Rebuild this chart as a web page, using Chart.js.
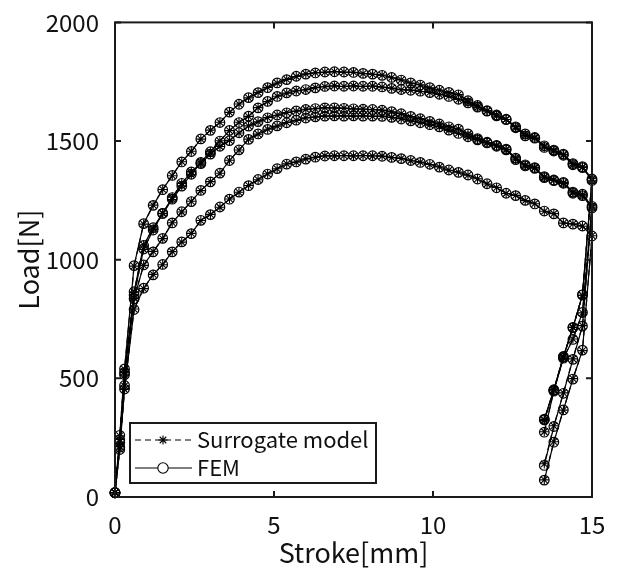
<!DOCTYPE html>
<html><head><meta charset="utf-8">
<script src="https://cdn.jsdelivr.net/npm/chart.js@4/dist/chart.umd.min.js"></script>
<style>html,body{margin:0;padding:0;background:#fff;}</style>
</head><body>
<canvas id="c" width="617" height="569"></canvas>
<script>
// Stroke [mm] (loading 0 -> 15, then unloading 15 -> 13.5)
const stroke = [0, 0.15, 0.3, 0.6, 0.9, 1.2, 1.5, 1.8, 2.1, 2.4, 2.7, 3.0, 3.3, 3.6, 3.9, 4.2, 4.5, 4.8, 5.1, 5.4, 5.7, 6.0, 6.3, 6.6, 6.9, 7.2, 7.5, 7.8, 8.1, 8.4, 8.7, 9.0, 9.3, 9.6, 9.9, 10.2, 10.5, 10.8, 11.1, 11.4, 11.7, 12.0, 12.3, 12.6, 12.9, 13.2, 13.5, 13.8, 14.1, 14.4, 14.7, 15.0, 14.7, 14.4, 14.1, 13.8, 13.5];

// FEM load [N], five cases
const femA = [18, 260, 540, 975, 1152, 1229, 1295, 1355, 1412, 1456, 1509, 1545, 1578, 1622, 1655, 1683, 1704, 1725, 1745, 1759, 1773, 1782, 1787, 1791, 1792, 1791, 1789, 1785, 1782, 1777, 1768, 1757, 1745, 1736, 1725, 1714, 1705, 1695, 1670, 1650, 1628, 1610, 1592, 1560, 1530, 1515, 1480, 1462, 1445, 1405, 1392, 1340, 852, 715, 592, 452, 328];
const femB = [18, 240, 525, 865, 1060, 1135, 1195, 1255, 1310, 1360, 1410, 1455, 1500, 1545, 1578, 1605, 1640, 1667, 1688, 1703, 1711, 1717, 1724, 1730, 1732, 1731, 1732, 1731, 1731, 1728, 1722, 1717, 1714, 1710, 1704, 1697, 1688, 1676, 1661, 1643, 1626, 1606, 1590, 1556, 1522, 1512, 1473, 1458, 1440, 1400, 1388, 1334, 852, 713, 590, 450, 325];
const femC = [18, 230, 515, 850, 1045, 1125, 1195, 1262, 1322, 1370, 1405, 1445, 1478, 1502, 1535, 1563, 1582, 1598, 1610, 1619, 1627, 1633, 1637, 1640, 1640, 1638, 1636, 1634, 1633, 1630, 1624, 1615, 1604, 1594, 1583, 1572, 1560, 1550, 1530, 1510, 1495, 1482, 1466, 1428, 1400, 1388, 1350, 1336, 1326, 1285, 1276, 1225, 778, 664, 585, 446, 273];
const femD = [18, 210, 470, 835, 978, 1033, 1090, 1155, 1202, 1245, 1292, 1328, 1365, 1418, 1463, 1507, 1530, 1549, 1564, 1577, 1588, 1597, 1602, 1605, 1606, 1605, 1606, 1605, 1605, 1604, 1600, 1593, 1585, 1577, 1569, 1560, 1546, 1532, 1518, 1505, 1492, 1478, 1463, 1422, 1395, 1385, 1346, 1333, 1322, 1280, 1270, 1218, 720, 580, 437, 297, 133];
const femE = [18, 200, 455, 790, 880, 936, 980, 1033, 1075, 1110, 1166, 1190, 1222, 1255, 1285, 1312, 1338, 1361, 1384, 1403, 1412, 1424, 1432, 1437, 1438, 1438, 1438, 1438, 1438, 1436, 1431, 1426, 1418, 1410, 1402, 1390, 1378, 1368, 1357, 1340, 1320, 1303, 1280, 1270, 1250, 1235, 1205, 1193, 1155, 1150, 1142, 1100, 619, 497, 367, 231, 71];

// Surrogate model load [N], five cases
const surA = [18, 258, 538, 973, 1150, 1230, 1296, 1354, 1413, 1457, 1508, 1546, 1579, 1621, 1656, 1682, 1705, 1726, 1744, 1760, 1772, 1783, 1788, 1790, 1793, 1790, 1790, 1784, 1781, 1778, 1767, 1758, 1744, 1737, 1724, 1715, 1704, 1696, 1669, 1651, 1627, 1611, 1591, 1561, 1529, 1516, 1479, 1463, 1444, 1406, 1391, 1341, 850, 716, 591, 453, 326];
const surB = [18, 242, 527, 863, 1062, 1133, 1196, 1254, 1311, 1359, 1411, 1454, 1501, 1544, 1579, 1604, 1641, 1666, 1689, 1702, 1712, 1716, 1725, 1729, 1733, 1730, 1733, 1730, 1732, 1727, 1723, 1716, 1715, 1709, 1705, 1696, 1689, 1675, 1662, 1642, 1627, 1605, 1591, 1555, 1523, 1511, 1474, 1457, 1441, 1399, 1389, 1333, 850, 714, 589, 451, 322];
const surC = [18, 232, 513, 852, 1043, 1127, 1194, 1263, 1321, 1371, 1404, 1446, 1477, 1503, 1534, 1564, 1581, 1599, 1609, 1620, 1626, 1634, 1636, 1641, 1639, 1639, 1635, 1635, 1632, 1631, 1623, 1616, 1603, 1595, 1582, 1573, 1559, 1551, 1529, 1511, 1494, 1483, 1465, 1429, 1399, 1389, 1349, 1337, 1325, 1286, 1275, 1226, 776, 666, 584, 448, 275];
const surD = [18, 212, 468, 837, 976, 1035, 1089, 1156, 1201, 1246, 1291, 1329, 1364, 1419, 1462, 1508, 1529, 1550, 1563, 1578, 1587, 1598, 1601, 1606, 1605, 1606, 1605, 1606, 1604, 1605, 1599, 1594, 1584, 1578, 1568, 1561, 1545, 1533, 1517, 1506, 1491, 1479, 1462, 1423, 1394, 1386, 1345, 1334, 1321, 1281, 1269, 1219, 722, 582, 439, 300, 140];
const surE = [18, 202, 453, 792, 878, 938, 979, 1034, 1074, 1111, 1165, 1191, 1221, 1256, 1284, 1313, 1337, 1362, 1383, 1404, 1411, 1425, 1431, 1438, 1437, 1439, 1437, 1439, 1437, 1437, 1430, 1427, 1417, 1411, 1401, 1391, 1377, 1369, 1356, 1341, 1319, 1304, 1279, 1271, 1249, 1236, 1204, 1194, 1154, 1151, 1141, 1101, 617, 499, 366, 233, 72];

const xTicks = [0, 5, 10, 15];
const yTicks = [0, 500, 1000, 1500, 2000];
const legendLabels = ['Surrogate model', 'FEM'];

const FONT = '"Noto Sans CJK JP", "Noto Sans", sans-serif';
const INK = '#111';

function pts(arr){ return stroke.map((s, i) => ({x: s, y: arr[i]})); }

const femSets = [femA, femB, femC, femD, femE];
const surSets = [surA, surB, surC, surD, surE];
const datasets = [];
femSets.forEach(arr => {
  datasets.push({
    label: legendLabels[1], data: pts(arr), showLine: true,
    borderColor: '#000', borderWidth: 1.2, pointStyle: 'circle', pointRadius: 4.8,
    pointBorderWidth: 1.2, pointBorderColor: '#000', pointBackgroundColor: 'rgba(0,0,0,0)',
    clip: false
  });
});
surSets.forEach(arr => {
  datasets.push({
    label: legendLabels[0], data: pts(arr), showLine: true,
    borderColor: '#000', borderWidth: 1.2, borderDash: [6, 4], pointStyle: 'star', pointRadius: 4.6,
    pointBorderWidth: 1.1, pointBorderColor: '#000', pointBackgroundColor: 'rgba(0,0,0,0)',
    clip: false
  });
});

const framePlugin = {
  id: 'frame',
  afterDatasetsDraw(chart) {
    const {ctx, chartArea: a, scales: {x, y}} = chart;
    ctx.save();
    ctx.strokeStyle = '#1a1a1a';
    ctx.lineWidth = 2;
    ctx.strokeRect(a.left, a.top, a.right - a.left, a.bottom - a.top);
    ctx.lineWidth = 2;
    ctx.beginPath();
    x.ticks.forEach(t => {
      const p = x.getPixelForValue(t.value);
      ctx.moveTo(p, a.bottom); ctx.lineTo(p, a.bottom - 6);
      ctx.moveTo(p, a.top); ctx.lineTo(p, a.top + 6);
    });
    y.ticks.forEach(t => {
      const p = y.getPixelForValue(t.value);
      ctx.moveTo(a.left, p); ctx.lineTo(a.left + 6, p);
      ctx.moveTo(a.right, p); ctx.lineTo(a.right - 6, p);
    });
    ctx.stroke();
    ctx.restore();
  },
  afterDraw(chart) {
    const ctx = chart.ctx;
    const bx = 130, by = 423, bw = 246, bh = 60;
    ctx.save();
    ctx.fillStyle = '#fff';
    ctx.fillRect(bx, by, bw, bh);
    ctx.strokeStyle = '#1a1a1a';
    ctx.lineWidth = 2;
    ctx.strokeRect(bx, by, bw, bh);
    const rows = [by + 17, by + 45];
    const x0 = 135, x1 = 192, xm = 163;
    ctx.strokeStyle = '#000';
    ctx.lineWidth = 1.1;
    // row 1: dashed + star
    ctx.setLineDash([6, 4]);
    ctx.beginPath(); ctx.moveTo(x0, rows[0]); ctx.lineTo(x1, rows[0]); ctx.stroke();
    ctx.setLineDash([]);
    Chart.helpers.drawPoint(ctx, {pointStyle: 'star', radius: 4.6, borderWidth: 1.1}, xm, rows[0]);
    // row 2: solid + circle
    ctx.beginPath(); ctx.moveTo(x0, rows[1]); ctx.lineTo(x1, rows[1]); ctx.stroke();
    ctx.fillStyle = '#fff';
    ctx.beginPath(); ctx.arc(xm, rows[1], 5.2, 0, Math.PI * 2); ctx.fill(); ctx.stroke();
    ctx.fillStyle = INK;
    ctx.font = '22px ' + FONT;
    ctx.textBaseline = 'middle';
    ctx.textAlign = 'left';
    ctx.fillText(legendLabels[0], 197, rows[0]);
    ctx.fillText(legendLabels[1], 197, rows[1]);
    ctx.restore();
  }
};

new Chart(document.getElementById('c').getContext('2d'), {
  type: 'scatter',
  data: {datasets},
  plugins: [framePlugin],
  options: {
    responsive: false, animation: false, devicePixelRatio: 1,
    layout: {padding: {left: 0, right: 25, top: 19, bottom: 0}},
    plugins: {legend: {display: false}, tooltip: {enabled: false}},
    scales: {
      x: {
        type: 'linear', min: 0, max: 15,
        afterBuildTicks: s => { s.ticks = xTicks.map(v => ({value: v})); },
        afterFit: s => { s.height = 72; },
        grid: {display: false}, border: {display: false},
        ticks: {color: INK, font: {family: FONT, size: 24}, padding: 5, maxRotation: 0,
                callback: v => String(v)},
        title: {display: true, text: 'Stroke[mm]', color: INK, font: {family: FONT, size: 27}, padding: {top: 0, bottom: 0}}
      },
      y: {
        type: 'linear', min: 0, max: 2000,
        afterBuildTicks: s => { s.ticks = yTicks.map(v => ({value: v})); },
        afterFit: s => { s.width = 115; },
        grid: {display: false}, border: {display: false},
        ticks: {color: INK, font: {family: FONT, size: 24}, padding: 8,
                callback: v => String(v)},
        title: {display: true, text: 'Load[N]', color: INK, font: {family: FONT, size: 27}, padding: {top: 13, bottom: 0}}
      }
    }
  }
});
</script>
</body></html>
